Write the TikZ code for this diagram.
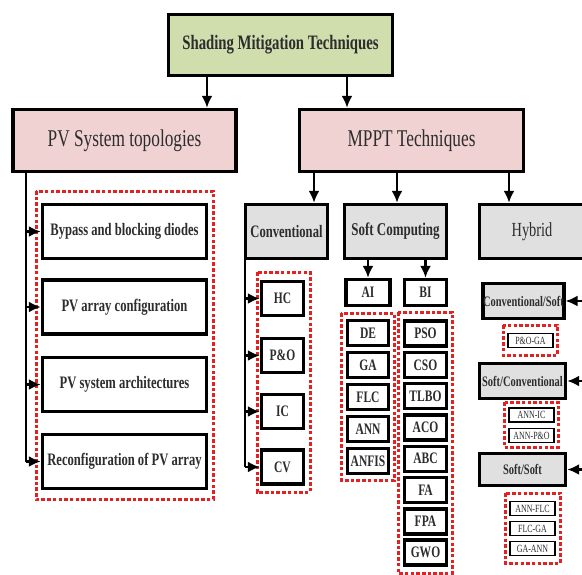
\documentclass[tikz,border=0pt]{standalone}
\usepackage{fontspec}
\setmainfont[FakeStretch=0.72]{Liberation Serif}
\usetikzlibrary{arrows.meta}
\definecolor{topgreen}{RGB}{208,221,172}
\definecolor{catpink}{RGB}{240,210,210}
\definecolor{subgray}{RGB}{224,224,224}
\definecolor{grpred}{RGB}{228,32,32}
\definecolor{txtgray}{RGB}{45,45,45}

\begin{document}
\begin{tikzpicture}[x=1pt,y=-1pt,
    box/.style={draw=black,line width=3.4pt,inner sep=0pt,fill=white,text=txtgray,font=\bfseries\fontsize{16}{18}\selectfont},
    topbox/.style={box,fill=topgreen,minimum width=224pt,minimum height=61pt,font=\bfseries\fontsize{20.5}{22}\selectfont},
    catbox/.style={box,fill=catpink,minimum width=223pt,minimum height=62pt,font=\fontsize{24}{26}\selectfont},
    topobox/.style={box,minimum width=164pt,minimum height=54pt,font=\bfseries\fontsize{17.5}{19}\selectfont},
    grpbox/.style={box,fill=subgray,minimum height=54pt,font=\bfseries\fontsize{17.5}{19}\selectfont},
    convbox/.style={box,minimum width=42pt,minimum height=34pt},
    techbox/.style={box,minimum width=44pt,minimum height=26pt},
    leafbox/.style={box,minimum width=41pt,minimum height=25pt},
    hsubbox/.style={box,fill=subgray,minimum height=35pt,font=\bfseries\fontsize{14.5}{16}\selectfont},
    tinybox/.style={draw=black,line width=1.1pt,inner sep=0pt,fill=white,text=txtgray,minimum width=45pt,minimum height=14pt,font=\fontsize{11}{12}\selectfont},
    grp/.style={draw=grpred,line width=3pt,dash pattern=on 3.5pt off 2.2pt},
    trunk/.style={draw=black,line width=2.8pt},
    headed/.style={-{Latex[length=12pt,width=11pt]}}]
  \clip (0,0) rectangle (582,574);
  \fill[white] (0,0) rectangle (582,574);

  \draw[grp] (36,191) rectangle (213,499);
  \draw[grp] (257,272) rectangle (310,492);
  \draw[grp] (341,313) rectangle (394,480);
  \draw[grp] (398,312) rectangle (452,573);
  \draw[grp] (503,325) rectangle (557,355);
  \draw[grp] (504,402) rectangle (558,447);
  \draw[grp] (505,493) rectangle (560,563);

  \node[topbox] (smt) at (280.5,45) {Shading Mitigation Techniques};
  \node[catbox] (pvst) at (124.5,140.5) {PV System topologies};
  \node[catbox,minimum width=224pt] (mppt) at (411.5,140.5) {MPPT Techniques};

  \node[topobox] (bypass) at (124.5,231.5) {Bypass and blocking diodes};
  \node[topobox] (pvac) at (124.5,307) {PV array configuration};
  \node[topobox] (pvsa) at (124.5,384.5) {PV system architectures};
  \node[topobox] (recon) at (124.5,461.5) {Reconfiguration of PV array};

  \node[grpbox,minimum width=82pt] (conv) at (286.5,231.5) {Conventional};
  \node[grpbox,minimum width=102pt,font=\bfseries\fontsize{18}{20}\selectfont] (soft) at (395.5,231.5) {Soft Computing};
  \node[grpbox,minimum width=105pt,font=\fontsize{20}{22}\selectfont] (hyb) at (532,231.5) {Hybrid};

  \node[convbox] (hc) at (282.5,298.5) {HC};
  \node[convbox] (po) at (282.5,355.5) {P\&O};
  \node[convbox] (ic) at (282.5,411.5) {IC};
  \node[convbox] (cv) at (282.5,467) {CV};

  \node[techbox] (ai) at (368,292.5) {AI};
  \node[techbox,minimum width=42pt] (bi) at (425.5,292.5) {BI};

  \node[leafbox] (de) at (368,333) {DE};
  \node[leafbox] (ga) at (368,365) {GA};
  \node[leafbox] (flc) at (368,397) {FLC};
  \node[leafbox] (ann) at (368,429) {ANN};
  \node[leafbox] (anfis) at (368,461) {ANFIS};

  \node[leafbox,minimum width=42pt] (pso) at (425.5,333.5) {PSO};
  \node[leafbox,minimum width=42pt] (cso) at (425.5,364.8) {CSO};
  \node[leafbox,minimum width=42pt] (tlbo) at (425.5,396.1) {TLBO};
  \node[leafbox,minimum width=42pt] (aco) at (425.5,427.4) {ACO};
  \node[leafbox,minimum width=42pt] (abc) at (425.5,458.7) {ABC};
  \node[leafbox,minimum width=42pt] (fa) at (425.5,490) {FA};
  \node[leafbox,minimum width=42pt] (fpa) at (425.5,521.3) {FPA};
  \node[leafbox,minimum width=42pt] (gwo) at (425.5,552.6) {GWO};

  \node[hsubbox,minimum width=80pt] (cs) at (523.5,301) {Conventional/Soft};
  \node[hsubbox,minimum width=86pt] (sc) at (522.5,381) {Soft/Conventional};
  \node[hsubbox,minimum width=86pt,minimum height=32pt] (ss) at (522.5,469.5) {Soft/Soft};

  \node[tinybox] (poga) at (530.5,340.5) {P\&O-GA};
  \node[tinybox] (annic) at (531.5,415) {ANN-IC};
  \node[tinybox] (annpo) at (531.5,435.5) {ANN-P\&O};
  \node[tinybox] (annflc) at (532.5,508.5) {ANN-FLC};
  \node[tinybox] (flcga) at (532.5,528.5) {FLC-GA};
  \node[tinybox] (gaann) at (532.5,548.5) {GA-ANN};

  \coordinate (ta) at (207,0);
  \coordinate (tb) at (347,0);
  \coordinate (ma) at (314,0);
  \coordinate (mb) at (397,0);
  \coordinate (mc) at (509,0);
  \coordinate (pa) at (26,0);
  \coordinate (ca) at (245,0);
  \coordinate (ha) at (592,0);

  \path[trunk]
  (smt.south -| ta) edge[headed] (pvst.north -| ta)
  (smt.south -| tb) edge[headed] (mppt.north -| tb)
  (mppt.south -| ma) edge[headed] (conv.north -| ma)
  (mppt.south -| mb) edge[headed] (soft.north -| mb)
  (mppt.south -| mc) edge[headed] (hyb.north -| mc)
  (soft.south -| ai.north) edge[headed] (ai.north)
  (soft.south -| bi.north) edge[headed] (bi.north);

  \draw[trunk] (pvst.south -| pa) -- (pa |- recon.west);
  \path[trunk]
  (pa |- bypass.west) edge[headed] (bypass.west)
  (pa |- pvac.west) edge[headed] (pvac.west)
  (pa |- pvsa.west) edge[headed] (pvsa.west)
  (pa |- recon.west) edge[headed] (recon.west);

  \draw[trunk] (conv.south -| ca) -- (ca |- cv.west);
  \path[trunk]
  (ca |- hc.west) edge[headed] (hc.west)
  (ca |- po.west) edge[headed] (po.west)
  (ca |- ic.west) edge[headed] (ic.west)
  (ca |- cv.west) edge[headed] (cv.west);

  \draw[trunk] (hyb.south -| ha) -- (ha |- ss.east);
  \path[trunk]
  (ha |- cs.east) edge[headed] (cs.east)
  (ha |- sc.east) edge[headed] (sc.east)
  (ha |- ss.east) edge[headed] (ss.east);
\end{tikzpicture}
\end{document}
